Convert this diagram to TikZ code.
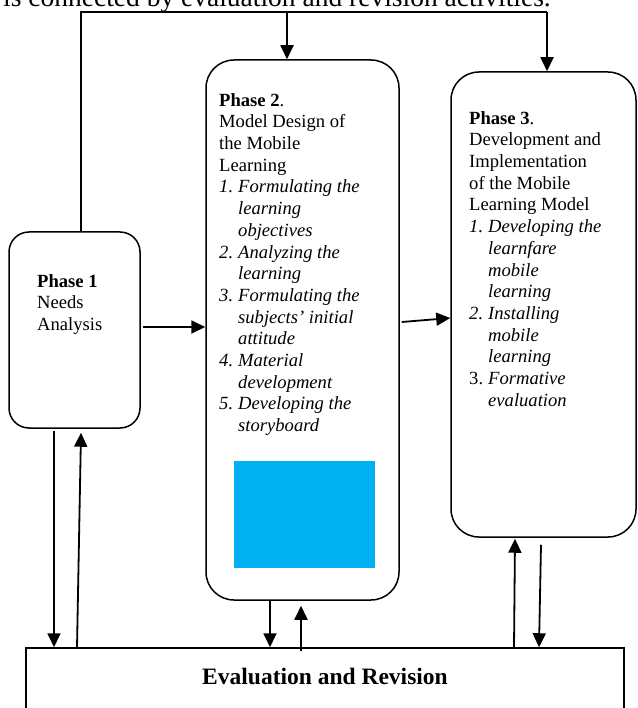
\documentclass[tikz,border=0pt]{standalone}
\usepackage{fontspec}
\setmainfont{Liberation Serif}
\usetikzlibrary{arrows.meta,positioning,calc}
\definecolor{StoryBlue}{HTML}{00B0F0}

\newcommand{\stepnum}[1]{\makebox[19pt][l]{#1}}
\newcommand{\stepgap}[1]{\hspace*{19pt}\textit{#1}}

\tikzset{
  phasebox/.style={draw, line width=1.5pt, rounded corners=#1, inner sep=0pt},
  phasebox/.default=28pt,
  phasetext/.style={anchor=north west, inner sep=0pt, align=left, font=\fontsize{18.6}{21.7}\selectfont},
  flow/.style={-{Triangle[length=14pt,width=13pt]}, line width=1.8pt},
  link/.style={line width=1.3pt}
}

\begin{document}
\begin{tikzpicture}[x=1pt,y=-1pt]
    \path[use as bounding box, clip] (0,0) rectangle (637,708);

    % Running text cut by the page
    \node[anchor=base west, inner sep=0pt, font=\fontsize{27.5}{30}\selectfont] (intro) at (3,7) {is connected by evaluation and revision activities.};

    % Phases
    \node[phasebox=20pt, minimum width=131pt, minimum height=196pt] (p1) at (74.5,330) {};
    \node[phasebox, minimum width=193pt, minimum height=540pt] (p2) at (302.5,330) {};
    \node[phasebox, minimum width=185pt, minimum height=465pt] (p3) at (543.5,304.5) {};

    \node[phasetext] (p1text) at (37,274) {\textbf{Phase 1}\\Needs\\Analysis};

    \node[phasetext] (p2text) at (219,93) {\textbf{Phase 2}.\\Model Design of\\the Mobile\\Learning\\
      \textit{\stepnum{1.}Formulating the}\\\stepgap{learning}\\\stepgap{objectives}\\
      \textit{\stepnum{2.}Analyzing the}\\\stepgap{learning}\\
      \textit{\stepnum{3.}Formulating the}\\\stepgap{subjects' initial}\\\stepgap{attitude}\\
      \textit{\stepnum{4.}Material}\\\stepgap{development}\\
      \textit{\stepnum{5.}Developing the}\\\stepgap{storyboard}};

    \node[phasetext] (p3text) at (469,111) {\textbf{Phase 3}.\\Development and\\Implementation\\of the Mobile\\Learning Model\\
      \textit{\stepnum{1.}Developing the}\\\stepgap{learnfare}\\\stepgap{mobile}\\\stepgap{learning}\\
      \textit{\stepnum{2.}Installing}\\\stepgap{mobile}\\\stepgap{learning}\\
      \stepnum{3.}\textit{Formative}\\\stepgap{evaluation}};

    % Storyboard placeholder
    \node[fill=StoryBlue, inner sep=0pt, minimum width=141pt, minimum height=107pt] (story) at (304.5,514.5) {};

    % Evaluation
    \node[draw, line width=1.5pt, inner sep=0pt, minimum width=598pt, minimum height=82pt] (eval) at (325,689) {};
    \node[font=\fontsize{23.5}{26}\selectfont\bfseries] (evaltext) at (325,676) {Evaluation and Revision};

    % Feedback from the top
    \coordinate (topL) at (81,12);
    \coordinate (top2) at (287,12);
    \coordinate (top3) at (547,12);
    \draw[link] (p1.north -| topL) -- (topL) -- (top3);
    \draw[flow] (top2) -- (top2 |- p2.north);
    \draw[flow] (top3) -- (top3 |- p3.north);

    % Forward flow
    \draw[flow] ($(p1.east)+(2,-3)$) -- ($(p2.west)+(0,-3)$);
    \draw[flow] ($(p2.east)+(2,-8)$) -- ($(p3.west)+(0,13.5)$);

    % To and from evaluation
    \draw[flow] ($(p1.south)+(-20.5,2)$) coordinate (d1) -- (d1 |- eval.north);
    \draw[flow] ($(eval.north)+(-248,0)$) -- ($(p1.south)+(6.5,4)$);
    \draw[flow] (p2.south -| 270,0) -- (eval.north -| 270,0);
    \draw[flow] ($(eval.north)+(-24,4)$) -- ($(p2.south)+(-1.5,5)$);
    \draw[flow] ($(eval.north)+(189,0)$) -- ($(p3.south)+(-28.5,1)$);
    \draw[flow] ($(p3.south)+(-2.5,7)$) -- ($(eval.north)+(214,0)$);
  \end{tikzpicture}
\end{document}
